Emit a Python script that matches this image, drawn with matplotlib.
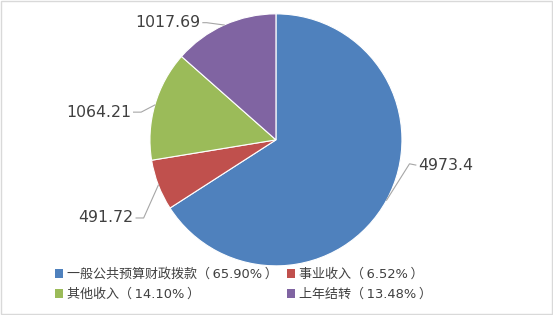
import numpy as np
import matplotlib.pyplot as plt
from matplotlib.patches import Patch, Rectangle

plt.rcParams['font.family'] = ['DejaVu Sans', 'Noto Sans CJK SC']

categories = ['一般公共预算财政拨款', '事业收入', '其他收入', '上年结转']
values = [4973.4, 491.72, 1064.21, 1017.69]
value_labels = ['4973.4', '491.72', '1064.21', '1017.69']
percent_labels = ['65.90%', '6.52%', '14.10%', '13.48%']
colors = ['#4F81BD', '#C0504D', '#9BBB59', '#8064A2']

TEXT = '#404040'
LINE = '#A6A6A6'

fig = plt.figure(figsize=(5.53, 3.15), dpi=100)
fig.patches.append(Rectangle((0.001, 0.002), 0.997, 0.995, transform=fig.transFigure,
                             fill=False, edgecolor='#D9D9D9', linewidth=1.0))

ax = fig.add_axes([0.499 - 0.2279, 0.556 - 0.4, 0.4558, 0.8])
wedges, _ = ax.pie(values, colors=colors, startangle=90, counterclock=False,
                   wedgeprops=dict(edgecolor='white', linewidth=0.8))
ax.set_aspect('equal')
ax.set_xlim(-1, 1)
ax.set_ylim(-1, 1)

# label text anchor points (axes data units, radius = 1) and elbow points
label_pos = [(1.13, -0.20), (-1.13, -0.62), (-1.15, 0.22), (-0.60, 0.93)]
elbow_pos = [(1.06, -0.19), (-1.05, -0.62), (-1.07, 0.22), (-0.55, 0.93)]
aligns = ['left', 'right', 'right', 'right']

for w, lab, tp, ep, ha in zip(wedges, value_labels, label_pos, elbow_pos, aligns):
    mid = np.deg2rad((w.theta1 + w.theta2) / 2)
    ex, ey = np.cos(mid), np.sin(mid)
    ax.plot([ex, ep[0], tp[0] - (0.02 if ha == 'left' else -0.02)],
            [ey, ep[1], tp[1]], color=LINE, linewidth=0.8, clip_on=False)
    ax.text(tp[0], tp[1], lab, ha=ha, va='center', fontsize=11.3, color=TEXT)

# legend entries laid out row by row in two columns
handles = [Patch(facecolor=c, edgecolor='none') for c in colors]
labels = [f'{c}（\u2009{p}\u2009）' for c, p in zip(categories, percent_labels)]
order = [0, 2, 1, 3]
leg = fig.legend([handles[i] for i in order], [labels[i] for i in order],
                 ncol=2, loc='upper left',
                 bbox_to_anchor=(0.099, 0.149), frameon=False, fontsize=9.4,
                 handlelength=0.6, handleheight=0.6, handletextpad=0.35,
                 columnspacing=0.7, labelspacing=0.55, borderpad=0, borderaxespad=0,
                 labelcolor=TEXT)

fig.savefig('out.png', dpi=100)
